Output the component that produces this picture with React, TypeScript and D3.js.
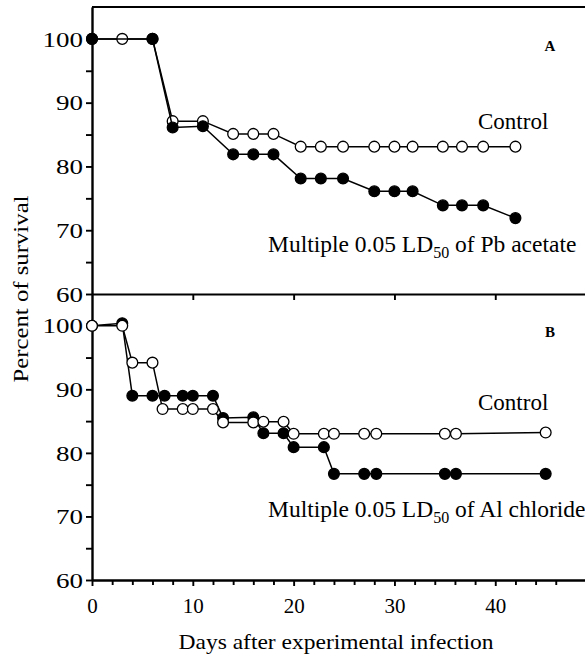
import React, { useEffect, useRef } from 'react'
import * as d3 from 'd3'

// panel A - Pb acetate
const daysControlA = [0, 3, 6, 8, 11, 14, 16, 18, 20.7, 22.7, 24.9, 28, 30, 31.8, 34.8, 36.7, 38.8, 42]
const survControlA = [100, 100, 100, 87.1, 87.1, 85.1, 85.1, 85.1, 83.1, 83.1, 83.1, 83.1, 83.1, 83.1, 83.1, 83.1, 83.1, 83.1]
const daysPbA = [0, 6, 8, 11, 14, 16, 18, 20.7, 22.7, 24.9, 28, 30, 31.8, 34.8, 36.7, 38.8, 42]
const survPbA = [100, 100, 86.1, 86.3, 81.9, 81.9, 81.9, 78.1, 78.1, 78.1, 76.1, 76.1, 76.1, 73.9, 73.9, 73.9, 71.9]

// panel B - Al chloride
const daysControlB = [0, 3, 4, 6, 7, 9, 10, 12, 13, 16, 17, 19, 20, 23, 24, 27, 28.2, 35, 36.1, 45]
const survControlB = [100, 100, 94.2, 94.2, 86.9, 86.9, 86.9, 86.9, 84.8, 84.8, 84.9, 84.9, 83, 83, 83, 83, 83, 83, 83, 83.2]
const daysAlB = [0, 3, 4, 6, 7.2, 9, 10, 12, 13, 16, 17, 19, 20, 23, 24, 27, 28.2, 35, 36.1, 45]
const survAlB = [100, 100.4, 89, 89, 89, 89, 89, 89, 85.5, 85.6, 83.1, 83.1, 80.9, 80.9, 76.7, 76.7, 76.7, 76.7, 76.7, 76.7]

const yMajor = [60, 70, 80, 90, 100]
const yMinor = [65, 75, 85, 95]
const xMajor = [0, 10, 20, 30, 40]

const FONT = '"Liberation Serif", "Times New Roman", serif'

export default function App() {
  const ref = useRef<SVGSVGElement>(null)

  useEffect(() => {
    const svg = d3.select(ref.current)
    svg.selectAll('*').remove()

    const x = d3.scaleLinear().domain([0, 49]).range([92, 586])
    const yA = d3.scaleLinear().domain([60, 105]).range([294, 7])
    const yB = d3.scaleLinear().domain([60, 105]).range([580, 294])

    const styleAxis = (g: any) => {
      g.selectAll('path, line').attr('stroke', '#000').attr('stroke-width', 1.9)
      g.selectAll('text').attr('font-family', FONT).attr('font-size', 21).attr('fill', '#000')
    }

    // y axes, labels drawn wide like the original
    ;[yA, yB].forEach(y => {
      svg.append('g')
        .attr('transform', 'translate(92,0)')
        .call(d3.axisLeft(y).tickValues(yMajor).tickSize(6).tickSizeOuter(0).tickPadding(3) as any)
        .call(styleAxis)
        .call((g: any) =>
          g.selectAll('text')
            .attr('font-size', 20)
            .attr('dy', '0.36em')
            .attr('textLength', (d: number) => String(d).length * 13.5)
            .attr('lengthAdjust', 'spacingAndGlyphs')
        )
      svg.append('g')
        .attr('transform', 'translate(92,0)')
        .call(d3.axisLeft(y).tickValues(yMinor).tickSize(6).tickSizeOuter(0).tickFormat(() => '') as any)
        .call(styleAxis)
    })

    // top border and shared middle line
    svg.append('line')
      .attr('x1', 92).attr('x2', 586).attr('y1', 7).attr('y2', 7)
      .attr('stroke', '#000').attr('stroke-width', 1.9)
    svg.append('g')
      .attr('transform', 'translate(0,294)')
      .call(d3.axisBottom(x).tickValues([10, 20, 30, 40]).tickSize(6).tickSizeOuter(0).tickFormat(() => '') as any)
      .call(styleAxis)

    // bottom axis
    svg.append('g')
      .attr('transform', 'translate(0,580)')
      .call(d3.axisBottom(x).tickValues(xMajor).tickSize(6).tickSizeOuter(0).tickPadding(12) as any)
      .call(styleAxis)
    svg.append('g')
      .attr('transform', 'translate(0,580)')
      .call(d3.axisBottom(x).tickValues(d3.range(2, 47, 2).filter(d => d % 10 !== 0)).tickSize(5).tickSizeOuter(0).tickFormat(() => '') as any)
      .call(styleAxis)

    const drawSeries = (days: number[], vals: number[], y: any, filled: boolean) => {
      const pts = days.map((d, i) => [d, vals[i]] as [number, number])
      const line = d3.line<[number, number]>().x(d => x(d[0])).y(d => y(d[1]))
      svg.append('path')
        .attr('d', line(pts))
        .attr('fill', 'none')
        .attr('stroke', '#000')
        .attr('stroke-width', 1.5)
      svg.append('g')
        .selectAll('circle')
        .data(pts)
        .enter()
        .append('circle')
        .attr('cx', d => x(d[0]))
        .attr('cy', d => y(d[1]))
        .attr('r', 5.4)
        .attr('fill', filled ? '#000' : '#fff')
        .attr('stroke', '#000')
        .attr('stroke-width', 1.3)
    }

    drawSeries(daysControlA, survControlA, yA, false)
    drawSeries(daysPbA, survPbA, yA, true)
    drawSeries(daysAlB, survAlB, yB, true)
    drawSeries(daysControlB, survControlB, yB, false)

    const txt = (s: string, tx: number, ty: number, size: number, anchor = 'start') =>
      svg.append('text')
        .attr('x', tx).attr('y', ty)
        .attr('font-family', FONT)
        .attr('font-size', size)
        .attr('text-anchor', anchor)
        .text(s)

    // panel letters
    txt('A', 550, 51, 15, 'middle').attr('font-weight', 'bold')
    txt('B', 550, 337, 15, 'middle').attr('font-weight', 'bold')

    txt('Control', 478, 129, 23)
    txt('Control', 478, 410, 23)

    const legend = (ty: number, rest: string) => {
      const t = txt('', 268, ty, 23.5)
      t.append('tspan').text('Multiple 0.05 LD')
      t.append('tspan').attr('font-size', 16).attr('dy', 6).text('50')
      t.append('tspan').attr('dy', -6).text(' of ' + rest)
    }
    legend(252, 'Pb acetate')
    legend(517, 'Al chloride')

    txt('Days after experimental infection', 336, 649, 21, 'middle')
      .attr('textLength', 315).attr('lengthAdjust', 'spacingAndGlyphs')
    txt('Percent of survival', 0, 0, 22, 'middle')
      .attr('transform', 'translate(28,289) rotate(-90)')
      .attr('textLength', 187).attr('lengthAdjust', 'spacingAndGlyphs')
  }, [])

  return (
    <svg
      ref={ref}
      width={585}
      height={656}
      style={{ position: 'absolute', left: 0, top: 0, background: '#fff' }}
    />
  )
}
